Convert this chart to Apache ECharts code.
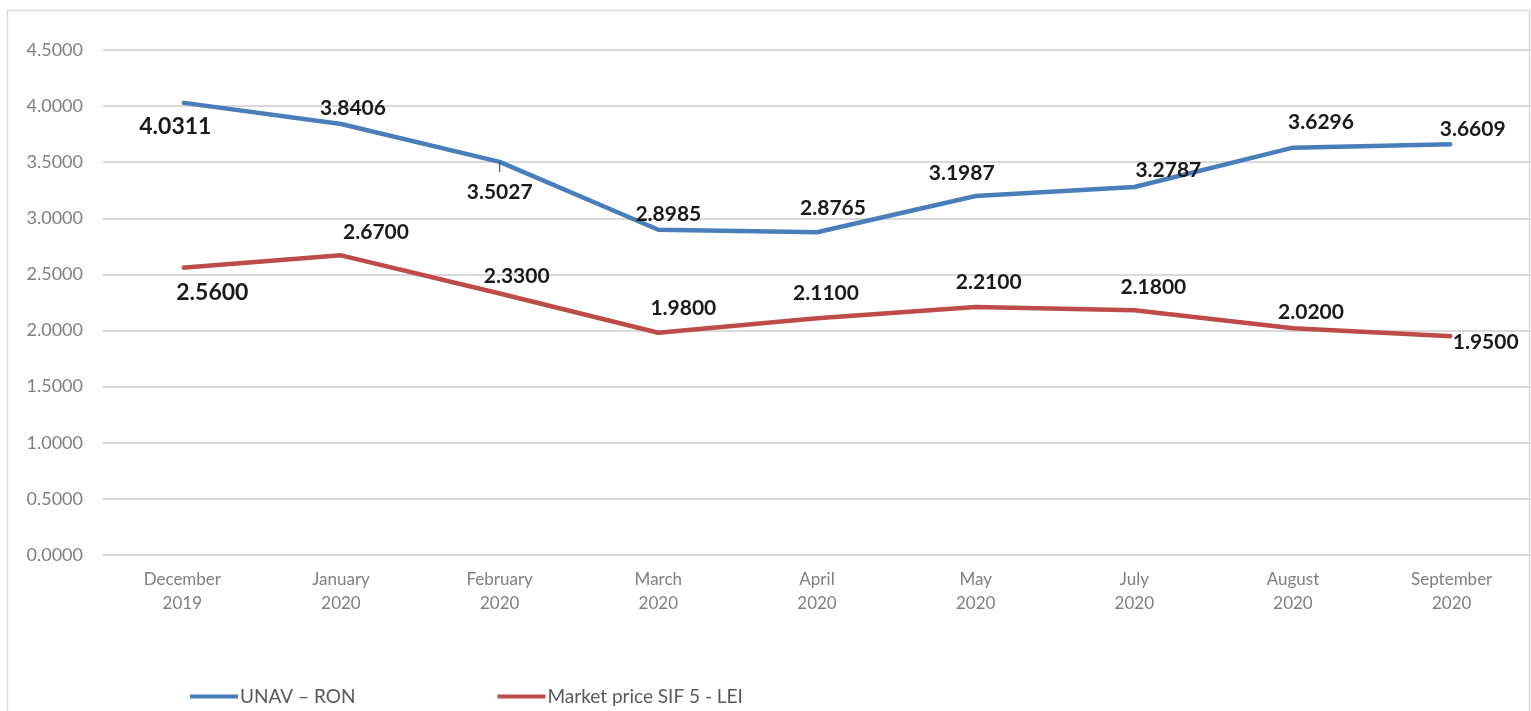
<!DOCTYPE html>
<html lang="en">
<head>
    <meta charset="UTF-8">
    <title>UNAV vs market price SIF 5</title>
    <style>
        html, body { margin: 0; padding: 0; background: #fff; }
        #container { width: 1531px; height: 711px; }
    </style>
</head>
<body>
    <div id="container"></div>
    <script src="https://cdn.jsdelivr.net/npm/echarts@6/dist/echarts.min.js"></script>
    <script>
        var months = ['December\n2019', 'January\n2020', 'February\n2020', 'March\n2020', 'April\n2020',
                      'May\n2020', 'July\n2020', 'August\n2020', 'September\n2020'];
        var unav = [4.0311, 3.8406, 3.5027, 2.8985, 2.8765, 3.1987, 3.2787, 3.6296, 3.6609];
        var market = [2.56, 2.67, 2.33, 1.98, 2.11, 2.21, 2.18, 2.02, 1.95];
        var yTicks = [0, 0.5, 1, 1.5, 2, 2.5, 3, 3.5, 4, 4.5];

        // where each data label sits relative to its point (px)
        var unavLabelOffsets = [[-7, 24], [12, -16], [0, 25], [10, -15], [16, -24], [-14, -23], [34, -17], [28, -25], [21, -15]];
        var marketLabelOffsets = [[30, 25], [35, -23], [17, -17], [25, -25], [9, -25], [13, -25], [19, -23], [18, -16], [34, 6]];

        function withLabels(values, offsets) {
            return values.map(function (v, i) {
                return {
                    value: v,
                    label: { offset: offsets[i], fontSize: i === 0 ? 23 : 21 }
                };
            });
        }

        var ec = echarts.init(document.querySelector('#container'));

        var labelStyle = {
            show: true,
            position: 'inside',
            fontFamily: 'Lato',
            fontWeight: 'bold',
            fontSize: 21,
            color: '#1a1a1a',
            formatter: function (p) { return p.value.toFixed(4); }
        };

        var unavData = withLabels(unav, unavLabelOffsets);
        // the February label hangs below its point on a short leader tick
        unavData[2].label.formatter = function (p) { return '{t| }\n{v|' + p.value.toFixed(4) + '}'; };
        unavData[2].label.rich = {
            t: { width: 1, height: 10, lineHeight: 10, backgroundColor: '#333', align: 'center' },
            v: { fontFamily: 'Lato', fontWeight: 'bold', fontSize: 21, color: '#1a1a1a', lineHeight: 40, align: 'center' }
        };

        var option = {
            backgroundColor: '#fff',
            animation: false,
            graphic: [{
                type: 'rect',
                shape: { x: 7.5, y: 10.5, width: 1522, height: 720 },
                style: { fill: 'none', stroke: '#d9d9d9', lineWidth: 1.5 },
                silent: true
            }],
            grid: { left: 103, right: -3, top: 50, bottom: 156 },
            legend: {
                left: 185,
                top: 682,
                icon: 'rect',
                itemWidth: 48,
                itemHeight: 4,
                itemGap: 142,
                textStyle: { fontFamily: 'Lato', fontSize: 19, color: '#595959', padding: [0, 0, 0, -3] },
                data: ['UNAV – RON', 'Market price SIF 5 - LEI']
            },
            xAxis: {
                type: 'category',
                data: months,
                boundaryGap: true,
                axisLine: { show: false },
                axisTick: { show: false },
                axisLabel: {
                    fontFamily: 'Lato',
                    fontSize: 17,
                    color: '#7f7f7f',
                    lineHeight: 24,
                    margin: 13
                }
            },
            yAxis: {
                type: 'value',
                min: yTicks[0],
                max: yTicks[yTicks.length - 1],
                interval: 0.5,
                axisLine: { show: false },
                axisTick: { show: false },
                splitLine: { lineStyle: { color: '#d9d9d9', width: 2 } },
                axisLabel: {
                    fontFamily: 'Lato',
                    fontSize: 18,
                    color: '#7f7f7f',
                    margin: 20,
                    formatter: function (v) { return v.toFixed(4); }
                }
            },
            series: [{
                name: 'UNAV – RON',
                type: 'line',
                data: unavData,
                symbol: 'circle',
                symbolSize: 2,
                itemStyle: { color: '#4a7ebb' },
                lineStyle: { color: '#4a7ebb', width: 4.5 },
                label: labelStyle
            }, {
                name: 'Market price SIF 5 - LEI',
                type: 'line',
                data: withLabels(market, marketLabelOffsets),
                symbol: 'circle',
                symbolSize: 2,
                itemStyle: { color: '#be4b48' },
                lineStyle: { color: '#be4b48', width: 4.5 },
                label: labelStyle
            }]
        };
        ec.setOption(option);
    </script>
</body>
</html>
